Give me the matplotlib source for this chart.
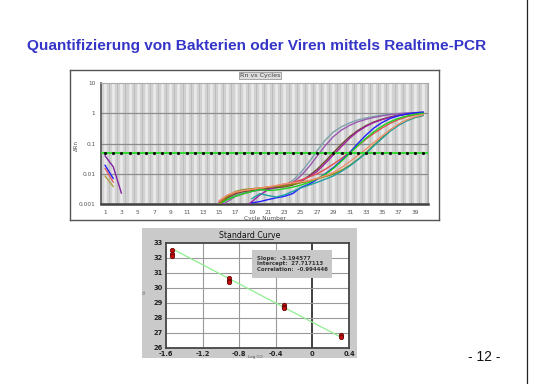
import numpy as np
import matplotlib
matplotlib.use('Agg')
import matplotlib.pyplot as plt
from matplotlib.patches import Rectangle

W, H = 539, 384

slide_title = 'Quantifizierung von Bakterien oder Viren mittels Realtime-PCR'
page_label = '- 12 -'

# amplification plot: delta Rn per cycle (cycles 15..40), nan = not drawn
late_cycles = list(range(15, 41))
nan = np.nan
curves = {
    '#7fa3ad': [0.0009, 0.0014, 0.0020, 0.0024, 0.0027, 0.0030, 0.0032, 0.0035, 0.0040, 0.0060, 0.011, 0.024, 0.058,
                0.13, 0.24, 0.36, 0.48, 0.60, 0.70, 0.79, 0.87, 0.93, 0.98, 1.02, 1.05, 1.07],
    '#9a5ab0': [0.0008, 0.0012, 0.0018, 0.0022, 0.0026, 0.0029, 0.0031, 0.0034, 0.0038, 0.0050, 0.0085, 0.017, 0.038,
                0.085, 0.17, 0.28, 0.40, 0.52, 0.63, 0.73, 0.82, 0.90, 0.96, 1.01, 1.05, 1.08],
    '#6b4a2a': [0.0010, 0.0016, 0.0022, 0.0026, 0.0028, 0.0030, 0.0033, 0.0035, 0.0037, 0.0042, 0.0055, 0.0085, 0.014,
                0.026, 0.050, 0.095, 0.17, 0.27, 0.39, 0.52, 0.64, 0.76, 0.86, 0.94, 1.00, 1.04],
    '#a020a0': [0.0011, 0.0009, 0.0008, 0.0007, 0.0012, 0.0020, 0.0030, 0.0038, 0.0042, 0.0048, 0.0058, 0.0080, 0.012,
                0.022, 0.042, 0.080, 0.15, 0.25, 0.37, 0.50, 0.62, 0.74, 0.85, 0.94, 1.01, 1.06],
    '#e05050': [0.0012, 0.0018, 0.0024, 0.0028, 0.0030, 0.0033, 0.0036, 0.0040, 0.0045, 0.0052, 0.0062, 0.0078, 0.010,
                0.014, 0.021, 0.032, 0.052, 0.085, 0.14, 0.22, 0.33, 0.47, 0.62, 0.76, 0.88, 0.96],
    '#2020ff': [nan, nan, nan, nan, 0.0011, 0.0012, 0.0014, 0.0016, 0.0018, 0.0022, 0.0035, 0.0045, 0.0065,
                0.010, 0.016, 0.028, 0.050, 0.10, 0.19, 0.33, 0.50, 0.68, 0.83, 0.95, 1.03, 1.08],
    '#20d020': [0.0010, 0.0014, 0.0018, 0.0022, 0.0026, 0.0030, 0.0028, 0.0029, 0.0032, 0.0036, 0.0042, 0.0052, 0.0068,
                0.0095, 0.015, 0.026, 0.047, 0.085, 0.15, 0.25, 0.38, 0.53, 0.68, 0.81, 0.92, 1.00],
    '#8a8a10': [0.0010, 0.0018, 0.0026, 0.0030, 0.0032, 0.0034, 0.0036, 0.0038, 0.0040, 0.0045, 0.0050, 0.0058, 0.0068,
                0.0080, 0.0098, 0.013, 0.019, 0.030, 0.050, 0.09, 0.16, 0.28, 0.42, 0.58, 0.72, 0.85],
    '#20a0a0': [nan, nan, nan, nan, 0.0015, 0.0022, 0.0019, 0.0017, 0.0020, 0.0026, 0.0034, 0.0042, 0.0052,
                0.0066, 0.0085, 0.012, 0.018, 0.029, 0.048, 0.085, 0.15, 0.26, 0.40, 0.56, 0.72, 0.84],
    '#f09070': [0.0013, 0.0020, 0.0025, 0.0028, 0.0031, 0.0034, 0.0037, 0.0041, 0.0046, 0.0050, 0.0054, 0.0060, 0.0070,
                0.0085, 0.011, 0.016, 0.025, 0.040, 0.065, 0.11, 0.18, 0.29, 0.44, 0.61, 0.77, 0.90],
}
# first cycles (baseline start)
early = {
    '#8020a0': ([1, 2, 3], [0.039, 0.017, 0.0023]),
    '#2020ff': ([1, 2], [0.019, 0.0070]),
    '#e06060': ([1, 2], [0.015, 0.0053]),
    '#b0a040': ([1, 2], [0.0084, 0.0038]),
}
threshold = 0.05
x_ticks_top = list(range(1, 40, 2))
y_ticks_top = [0.001, 0.01, 0.1, 1, 10]
y_ticklabels_top = ['0.001', '0.01', '0.1', '1', '10']

# standard curve
log_co = [-1.53, -1.53, -1.53, -0.91, -0.91, -0.91, -0.31, -0.31, -0.31, 0.31, 0.31]
ct = [32.55, 32.3, 32.15, 30.65, 30.5, 30.4, 28.9, 28.75, 28.65, 26.85, 26.75]
slope = -3.194577
intercept = 27.717113
correlation = -0.994446


def rect(x0, y0, x1, y1):
    return [x0 / W, 1 - y1 / H, (x1 - x0) / W, (y1 - y0) / H]


fig = plt.figure(figsize=(W / 100, H / 100), dpi=100)
fig.patch.set_facecolor('white')

fig.text(27 / W, 1 - 46 / H, slide_title, color='#3535c8', fontsize=11.1, fontweight='bold',
         family='Liberation Sans', va='center', ha='left')
fig.text(484 / W, 1 - 357 / H, page_label, color='#111111', fontsize=10, family='Liberation Sans',
         va='center', ha='center')
fig.add_artist(plt.Line2D([527 / W, 527 / W], [0, 1], color='#222222', lw=0.9))

# ---- top panel
panel = fig.add_axes(rect(70, 70, 439, 220))
panel.set_xticks([])
panel.set_yticks([])
panel.set_facecolor('white')
for s in panel.spines.values():
    s.set_color('#555555')
    s.set_linewidth(1.0)

ax = fig.add_axes(rect(101, 83, 428, 204))
ax.set_facecolor('#d2d2d2')
ax.set_yscale('log')
ax.set_xlim(0.5, 40.6)
ax.set_ylim(0.001, 10)
for c in range(1, 41):
    ax.axvline(c, color='#ececec', lw=1.8, zorder=0)
    ax.axvline(c + 0.5, color='#b5b5b5', lw=0.5, zorder=0)
for y in [0.01, 0.1, 1]:
    ax.axhline(y, color='#8c8c8c', lw=0.9, zorder=1)

for col, vals in curves.items():
    ax.plot(late_cycles, vals, color=col, lw=1.0, zorder=3)
for col, (xs, vals) in early.items():
    ax.plot(xs, vals, color=col, lw=1.0, zorder=3)

ax.axhline(threshold, color='#22dd22', lw=1.3, zorder=4)
ax.plot(np.arange(1, 41), [threshold] * 40, ls='none', marker='o', ms=1.3, color='#111111', zorder=5)

ax.set_xticks(x_ticks_top)
ax.set_yticks(y_ticks_top)
ax.set_yticklabels(y_ticklabels_top)
ax.minorticks_off()
ax.tick_params(length=0, labelsize=4.2, labelcolor='#555555', pad=4)
for s in ['top', 'right']:
    ax.spines[s].set_color('#aaaaaa')
ax.spines['left'].set_color('#555555')
ax.spines['left'].set_linewidth(1.2)
ax.spines['bottom'].set_color('#404040')
ax.spines['bottom'].set_linewidth(1.8)
ax.set_xlabel('Cycle Number', fontsize=4.2, color='#555555', labelpad=1)
fig.text(76 / W, 1 - 146 / H, 'ΔRn', rotation=90, fontsize=4, color='#555555', ha='center', va='center')
fig.text(260 / W, 1 - 75.5 / H, 'Rn vs Cycles', fontsize=4.6, color='#444444', ha='center', va='center',
         bbox=dict(boxstyle='square,pad=0.15', fc='#dddddd', ec='#888888', lw=0.5))

# ---- bottom panel
panel2 = fig.add_axes(rect(142, 228, 357, 358))
panel2.set_xticks([])
panel2.set_yticks([])
panel2.set_facecolor('#cacaca')
for s in panel2.spines.values():
    s.set_visible(False)

bx = fig.add_axes(rect(166, 243, 349, 348))
bx.set_facecolor('white')
bx.set_xlim(-1.6, 0.4)
bx.set_ylim(26, 33)
bx.set_xticks([-1.6, -1.2, -0.8, -0.4, 0, 0.4])
bx.set_xticklabels(['-1.6', '-1.2', '-0.8', '-0.4', '0', '0.4'])
bx.set_yticks(range(26, 34))
for v in [-1.2, -0.8, -0.4]:
    bx.axvline(v, color='#9a9a9a', lw=0.8, zorder=0)
bx.axvline(0, color='#404040', lw=1.4, zorder=0)
for v in range(27, 33):
    bx.axhline(v, color='#9a9a9a', lw=0.8, zorder=0)
fit_x = np.array([min(log_co), max(log_co)])
bx.plot(fit_x, intercept + slope * fit_x, color='#90ee90', lw=0.9, zorder=2)
bx.plot(log_co, ct, ls='none', marker='o', ms=3.2, mfc='#c01010', mec='#600000', mew=0.5, zorder=3)
bx.tick_params(length=0, labelsize=4.8, labelcolor='#222222', pad=2)
for lab in bx.get_xticklabels() + bx.get_yticklabels():
    lab.set_fontweight('bold')
for s in bx.spines.values():
    s.set_color('#444444')
    s.set_linewidth(1.3)
fig.text(250 / W, 1 - 235 / H, 'Standard Curve', fontsize=5.6, color='#111111', ha='center', va='center')
fig.add_artist(plt.Line2D([227 / W, 273 / W], [1 - 238.5 / H] * 2, color='#111111', lw=0.5))
fig.text(255 / W, 1 - 357 / H, 'Log CO', fontsize=3, color='#555555', ha='center', va='center')
fig.text(145 / W, 1 - 292 / H, 'Ct', fontsize=3, color='#555555', rotation=90, ha='center', va='center')
fig.add_artist(Rectangle((252 / W, 1 - 278 / H), 80 / W, 28 / H, transform=fig.transFigure,
                         fc='#c8c8c8', ec='none'))
fig.text(257 / W, 1 - 264 / H,
         'Slope:  %.6f\nIntercept:  %.6f\nCorrelation:  %.6f' % (slope, intercept, correlation),
         fontsize=3.9, fontweight='bold', color='#333333', ha='left', va='center', linespacing=1.15)

fig.savefig('out.png', dpi=100)
